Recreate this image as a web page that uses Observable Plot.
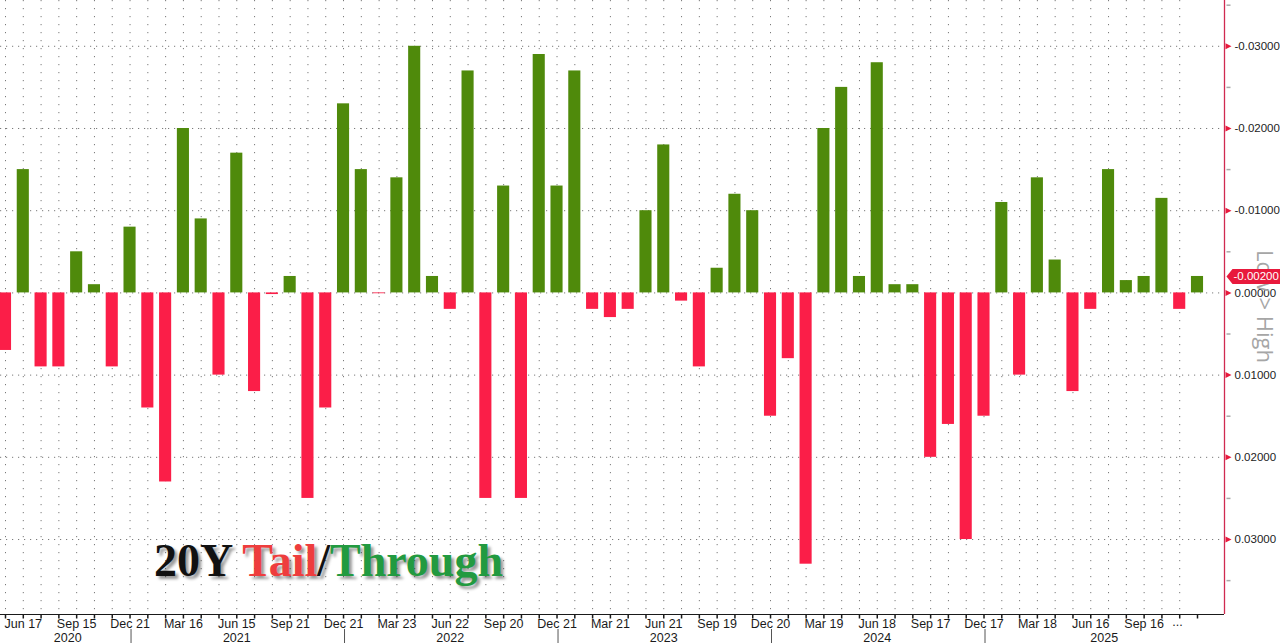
<!DOCTYPE html>
<html><head><meta charset="utf-8">
<script src="https://cdn.jsdelivr.net/npm/d3@7"></script>
<script src="https://cdn.jsdelivr.net/npm/@observablehq/plot@0.6"></script>
<style>
html,body{margin:0;padding:0;background:#fff;}
#wrap{position:relative;width:1280px;height:643px;overflow:hidden;}
#title{position:absolute;left:154px;top:538px;font:bold 46px "Liberation Serif","Times New Roman",serif;line-height:1;white-space:nowrap;text-shadow:3px 3px 3px rgba(0,0,0,0.4);}
</style></head><body>
<div id="wrap"><div id="title"><span style="color:#111">20Y </span><span style="color:#ee3d3d">Tail</span><span style="color:#111">/</span><span style="color:#229a40">Through</span></div></div>
<script>
// Auction months (20Y bond reopenings)
const months = [
  "May 2020","Jun 2020","Jul 2020","Aug 2020","Sep 2020","Oct 2020","Nov 2020","Dec 2020",
  "Jan 2021","Feb 2021","Mar 2021","Apr 2021","May 2021","Jun 2021","Jul 2021","Aug 2021","Sep 2021","Oct 2021","Nov 2021","Dec 2021",
  "Jan 2022","Feb 2022","Mar 2022","Apr 2022","May 2022","Jun 2022","Jul 2022","Aug 2022","Sep 2022","Oct 2022","Nov 2022","Dec 2022",
  "Jan 2023","Feb 2023","Mar 2023","Apr 2023","May 2023","Jun 2023","Jul 2023","Aug 2023","Sep 2023","Oct 2023","Nov 2023","Dec 2023",
  "Jan 2024","Feb 2024","Mar 2024","Apr 2024","May 2024","Jun 2024","Jul 2024","Aug 2024","Sep 2024","Oct 2024","Nov 2024","Dec 2024",
  "Jan 2025","Feb 2025","Mar 2025","Apr 2025","May 2025","Jun 2025","Jul 2025","Aug 2025","Sep 2025","Oct 2025","Nov 2025","Dec 2025"
];
// Tail (+) / Through (-)
const values = [
  0.007, -0.015, 0.009, 0.009, -0.005, -0.001, 0.009, -0.008,
  0.014, 0.023, -0.020, -0.009, 0.010, -0.017, 0.012, 0.0002, -0.002, 0.025, 0.014, -0.023,
  -0.015, 0.0001, -0.014, -0.030, -0.002, 0.002, -0.027, 0.025, -0.013, 0.025, -0.029, -0.013,
  -0.027, 0.002, 0.003, 0.002, -0.010, -0.018, 0.001, 0.009, -0.003, -0.012, -0.010, 0.015,
  0.008, 0.033, -0.020, -0.025, -0.002, -0.028, -0.001, -0.001, 0.020, 0.016, 0.030, 0.015,
  -0.011, 0.010, -0.014, -0.004, 0.012, 0.002, -0.015, -0.0015, -0.002, -0.0115, 0.002, -0.002
];
const tickMonths = ["Jun 2020","Sep 2020","Dec 2020","Mar 2021","Jun 2021","Sep 2021","Dec 2021","Mar 2022","Jun 2022","Sep 2022","Dec 2022","Mar 2023","Jun 2023","Sep 2023","Dec 2023","Mar 2024","Jun 2024","Sep 2024","Dec 2024","Mar 2025","Jun 2025","Sep 2025"];
const tickLabels = ["Jun 17","Sep 15","Dec 21","Mar 16","Jun 15","Sep 21","Dec 21","Mar 23","Jun 22","Sep 20","Dec 21","Mar 21","Jun 21","Sep 19","Dec 20","Mar 19","Jun 18","Sep 17","Dec 17","Mar 18","Jun 16","Sep 16"];
const truncatedMonth = "Dec 2025", truncatedLabel = "...";
const yTicks = [-0.03, -0.02, -0.01, 0, 0.01, 0.02, 0.03];
const yMinorTicks = [-0.035, -0.025, -0.015, -0.005, 0.005, 0.015, 0.025, 0.035];
const sideLabel = "Low > High";

const RED = "#fb1e48", GREEN = "#4f8a0b", AXIS_RED = "#d02a50", FLAG_RED = "#e8193c";
const W = 1280, H = 643, FRAME_R = 1224, FRAME_B = 614;
const xDomain = [0, months.length - 1], xRange = [5, 1197];
const yDomain = [-0.03557, 0.03912], yRange = [0, FRAME_B];
const xs = d3.scaleLinear(xDomain, xRange);
const ys = d3.scaleLinear(yDomain, yRange);
const xRight = xs.invert(FRAME_R);

const data = months.map((m, i) => ({i, m, v: values[i], year: m.slice(-4)}));
const last = data[data.length - 1];
const ticks = tickMonths.map((m, k) => ({i: months.indexOf(m), label: tickLabels[k]}));
const years = [...new Set(data.map(d => d.year))];
const yearLabels = years.map((y, k) => {
  const idx = data.filter(d => d.year === y).map(d => d.i);
  const start = k === 0 ? idx[0] : idx[0] - 1;
  const end = k === years.length - 1 ? xRight : idx[idx.length - 1];
  return {year: y, x: (start + end) / 2};
});
const separators = data.filter(d => d.m.startsWith("Dec") && d.i < last.i).map(d => d.i);

const triSym = {draw(ctx){ ctx.moveTo(0,-3); ctx.lineTo(6,0); ctx.lineTo(0,3); ctx.closePath(); }};
const hTick = {draw(ctx){ ctx.moveTo(0,0); ctx.lineTo(4,0); }};
const vTick = {draw(ctx){ ctx.moveTo(0,0); ctx.lineTo(0,4); }};
const flagSym = {draw(ctx){ ctx.moveTo(-27,0); ctx.lineTo(-21,-7.5); ctx.lineTo(28,-7.5); ctx.lineTo(28,7.5); ctx.lineTo(-21,7.5); ctx.closePath(); }};

const plot = Plot.plot({
  width: W, height: H,
  marginTop: 0, marginLeft: 0, marginRight: W - FRAME_R, marginBottom: H - FRAME_B,
  style: {fontFamily: "'Liberation Sans', Arial, sans-serif", fontSize: "12px", background: "white", overflow: "hidden"},
  x: {type: "linear", domain: xDomain, range: xRange, axis: null},
  y: {type: "linear", domain: yDomain, range: yRange, axis: null},
  marks: [
    // gridlines
    Plot.ruleY(yTicks, {y: d => d, stroke: "#7a7a7a", strokeDasharray: "1.2,4.8"}),
    Plot.ruleX(data.slice(0, -1), {x: "i", stroke: "#7a7a7a", strokeDasharray: "1.2,6.8"}),
    // bars
    Plot.rect(data.filter(d => d.v > 0), {x1: d => d.i - 0.34, x2: d => d.i + 0.34, y1: d => 0, y2: "v", fill: RED}),
    Plot.rect(data.filter(d => d.v <= 0), {x1: d => d.i - 0.34, x2: d => d.i + 0.34, y1: d => 0, y2: "v", fill: GREEN}),
    // x axis
    Plot.ruleY([yDomain[1]], {y: d => d, stroke: "#1a1a1a", strokeWidth: 1.2}),
    Plot.dot(data, {x: "i", frameAnchor: "bottom", symbol: vTick, stroke: "#1a1a1a", fill: "none", r: 3}),
    Plot.text(ticks, {x: "i", frameAnchor: "bottom", lineAnchor: "middle", textAnchor: "middle", dy: 9, text: "label", fill: "#1a1a1a", fontSize: 12.5}),
    Plot.text([truncatedLabel], {x: () => months.indexOf(truncatedMonth), frameAnchor: "bottom", lineAnchor: "middle", textAnchor: "middle", dy: 7, dx: -20, text: d => d, fill: "#1a1a1a", fontSize: 12.5}),
    Plot.ruleX(separators, {x: d => d, dx: 1, y1: ys.invert(629), y2: ys.invert(643), stroke: "#555"}),
    Plot.text(yearLabels, {x: "x", frameAnchor: "bottom", lineAnchor: "middle", textAnchor: "middle", dy: 23, text: "year", fill: "#1a1a1a", fontSize: 12.5}),
    // right axis
    Plot.ruleX([xRight], {x: d => d, stroke: AXIS_RED, strokeWidth: 1.3}),
    Plot.dot(yMinorTicks, {y: d => d, frameAnchor: "right", dx: 2, symbol: hTick, stroke: "#aaa", fill: "none", r: 3}),
    Plot.dot(yTicks, {y: d => d, frameAnchor: "right", dx: 1, symbol: triSym, fill: FLAG_RED, stroke: "none", r: 3}),
    Plot.text(yTicks, {y: d => d, frameAnchor: "right", dx: 10, textAnchor: "start", lineAnchor: "middle", text: d => d.toFixed(5), fill: "#222", fontSize: 11.5}),
    Plot.text([sideLabel], {frameAnchor: "right", dx: 40, dy: -1, rotate: 90, textAnchor: "middle", lineAnchor: "middle", text: d => d, fill: "#a6a6a6", fontSize: 22, fontFamily: "'Open Sans', sans-serif"}),
    // last value flag
    Plot.dot([last], {y: "v", frameAnchor: "right", dx: 29, symbol: flagSym, fill: FLAG_RED, stroke: "none", r: 5}),
    Plot.text([last], {y: "v", frameAnchor: "right", dx: 9, textAnchor: "start", lineAnchor: "middle", text: d => d.v.toFixed(5), fill: "white", fontSize: 11.5})
  ]
});
document.getElementById("wrap").insertBefore(plot, document.getElementById("title"));
</script>
</body></html>
